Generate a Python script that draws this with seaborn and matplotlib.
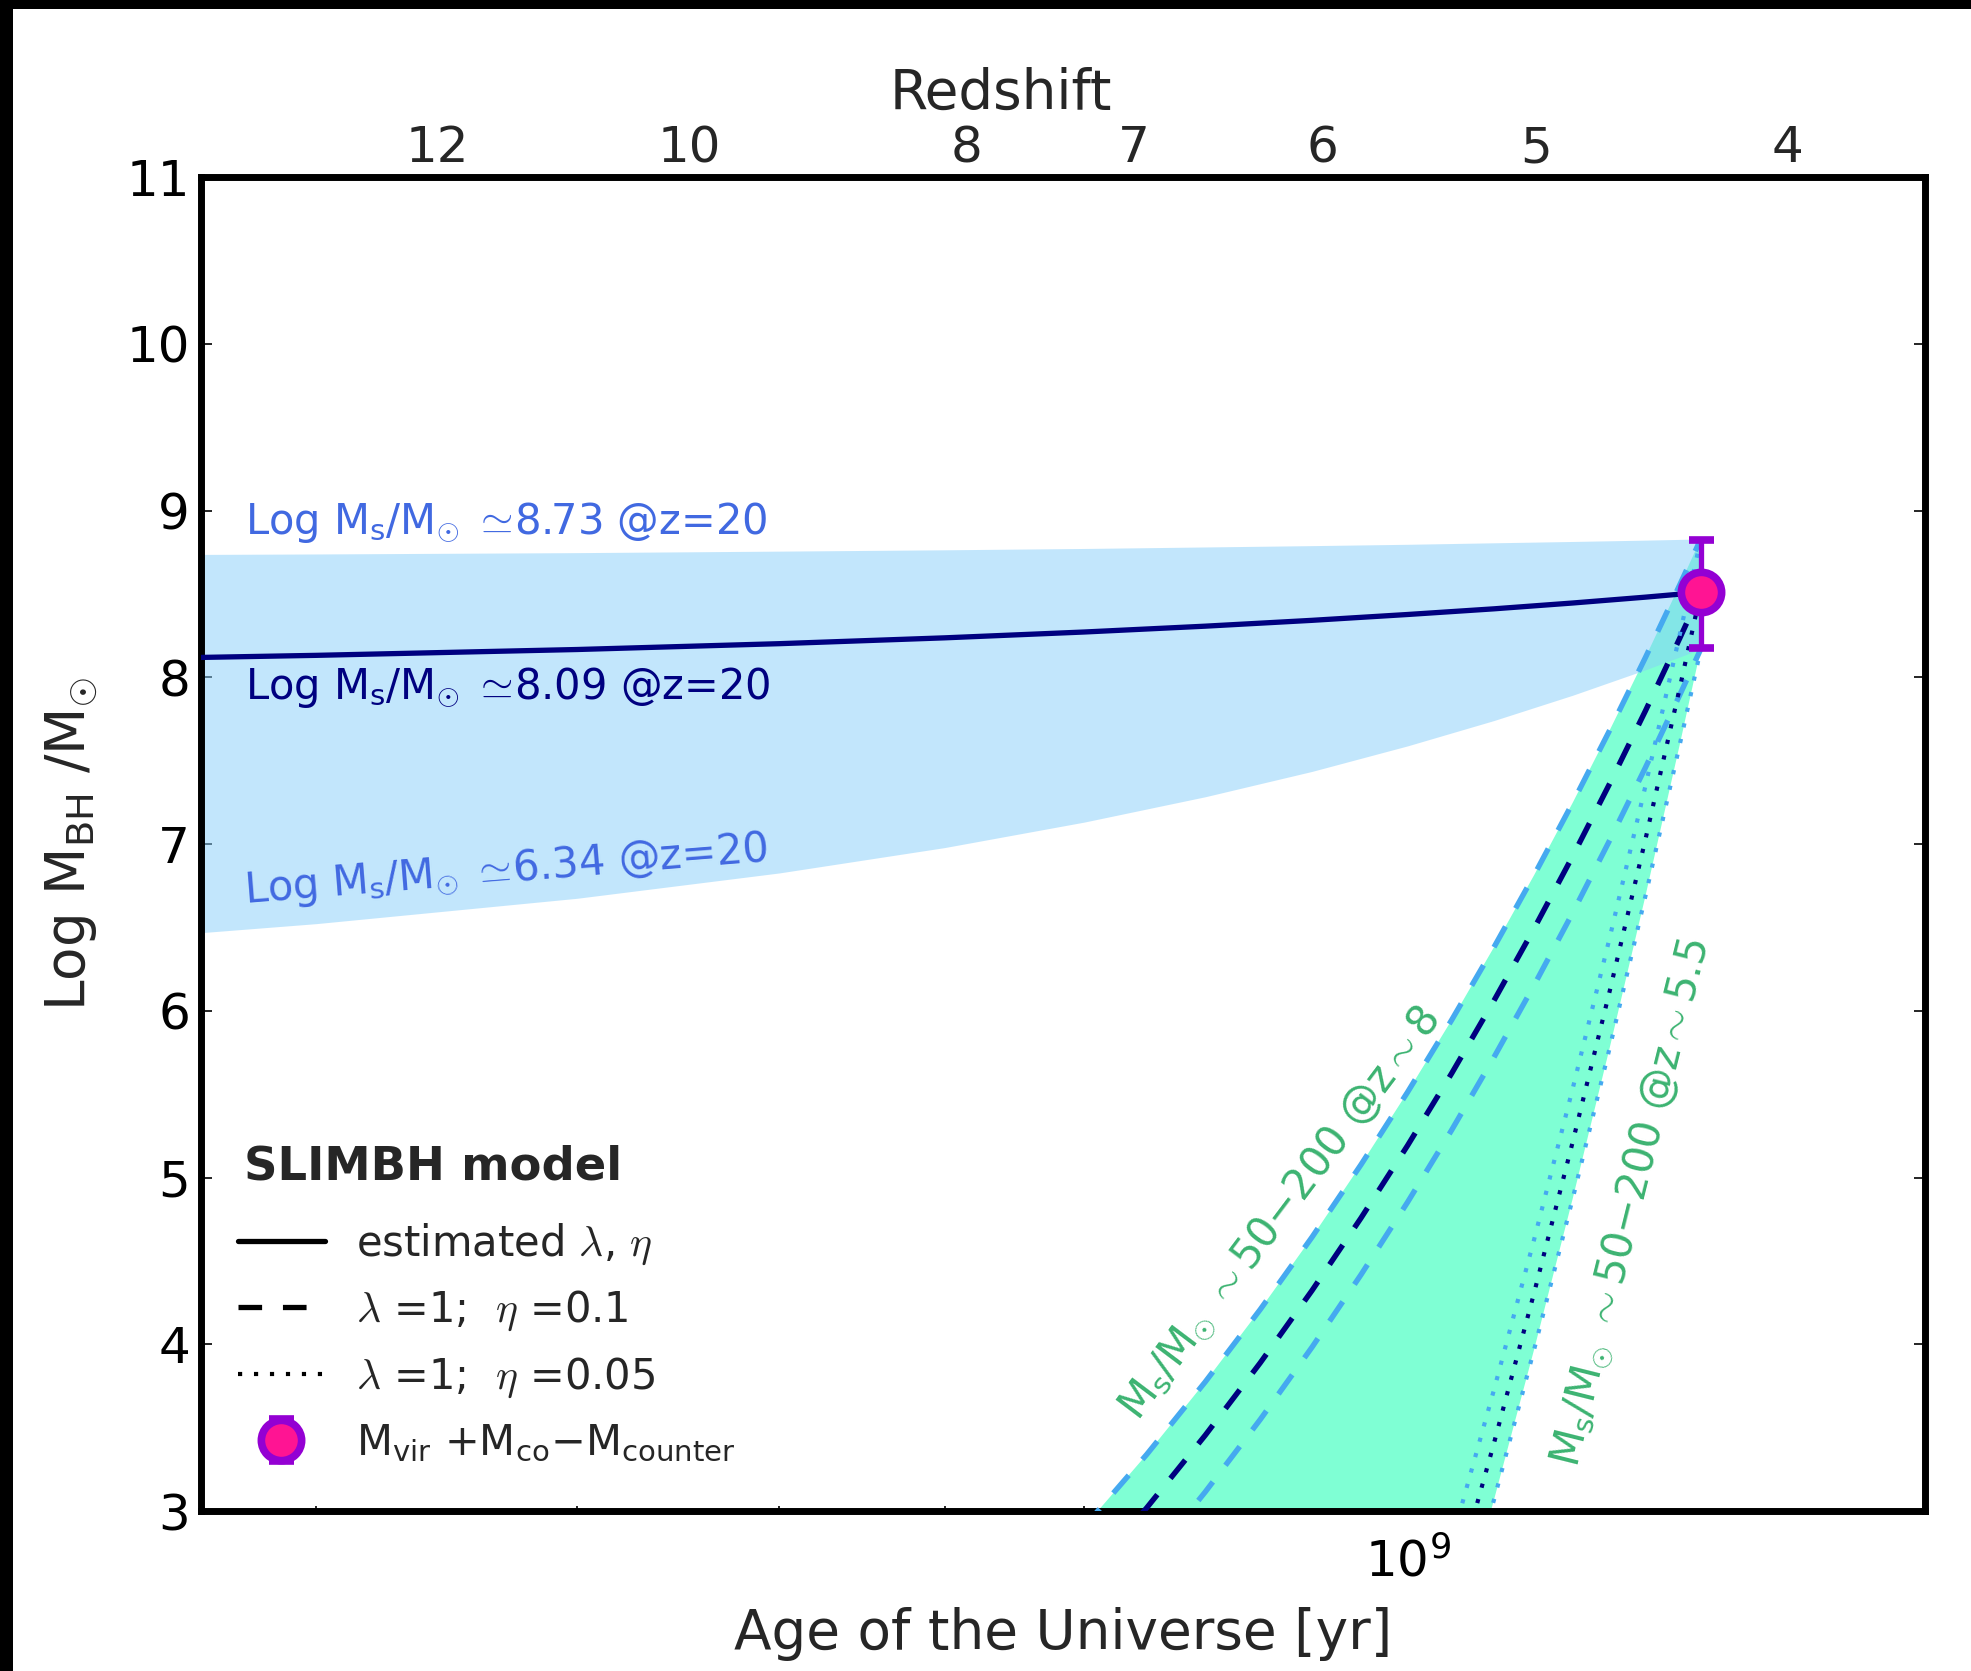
import matplotlib
matplotlib.use("Agg")
import matplotlib.pyplot as plt
from matplotlib.lines import Line2D
from matplotlib.patches import Rectangle
from matplotlib.ticker import NullFormatter, NullLocator
from matplotlib.offsetbox import HPacker, DrawingArea
import numpy as np
import seaborn as sns

# ---------------------------------------------------------------------------
# Black-hole growth histories: age of the Universe [Gyr] vs log M_BH/Msun
# ---------------------------------------------------------------------------
# SLIM-disc model: band of seeds at z=20 and the track with estimated lambda, eta
age_slim = [0.18, 0.26, 0.30, 0.40, 0.50, 0.60, 0.70, 0.80, 0.90, 1.00, 1.10, 1.20, 1.30, 1.382]
logm_slim_est = [8.09, 8.118, 8.132, 8.167, 8.202, 8.237, 8.272, 8.307, 8.342, 8.377, 8.411, 8.446, 8.481, 8.51]
logm_slim_hi = [8.73, 8.737, 8.740, 8.748, 8.757, 8.765, 8.773, 8.782, 8.790, 8.798, 8.807, 8.815, 8.823, 8.83]
logm_slim_lo = [6.34, 6.462, 6.523, 6.675, 6.827, 6.979, 7.132, 7.284, 7.436, 7.589, 7.741, 7.893, 8.045, 8.17]

# Eddington growth, lambda=1, eta=0.1
age_eta10 = [0.70, 0.75, 0.80, 0.85, 0.90, 0.95, 1.00, 1.05, 1.10, 1.15, 1.20, 1.25, 1.30, 1.35, 1.382]
logm_eta10_hi = [2.906, 3.340, 3.775, 4.209, 4.643, 5.078, 5.512, 5.946, 6.381, 6.815, 7.249, 7.684, 8.118, 8.552, 8.83]
logm_eta10_mid = [2.586, 3.020, 3.455, 3.889, 4.323, 4.758, 5.192, 5.626, 6.061, 6.495, 6.929, 7.364, 7.798, 8.232, 8.51]
logm_eta10_lo = [2.246, 2.680, 3.115, 3.549, 3.983, 4.418, 4.852, 5.286, 5.721, 6.155, 6.589, 7.024, 7.458, 7.892, 8.17]

# Eddington growth, lambda=1, eta=0.05
age_eta05 = [1.00, 1.05, 1.10, 1.15, 1.20, 1.25, 1.30, 1.35, 1.382]
logm_eta05_hi = [1.916, 2.821, 3.726, 4.631, 5.536, 6.441, 7.346, 8.251, 8.83]
logm_eta05_mid = [1.596, 2.501, 3.406, 4.311, 5.216, 6.121, 7.026, 7.931, 8.51]
logm_eta05_lo = [1.256, 2.161, 3.066, 3.971, 4.876, 5.781, 6.686, 7.591, 8.17]

# Measured black-hole mass
obs_age = 1.382          # Gyr
obs_logm = 8.51
obs_err_lo = 0.335
obs_err_hi = 0.315

# Redshift scale along the top axis
z_labels = ["12", "10", "8", "7", "6", "5", "4"]
z_age = [0.343, 0.453, 0.615, 0.739, 0.910, 1.152, 1.521]   # Gyr

age_range = [0.2642, 1.770]   # Gyr
logm_range = [3, 11]

GYR = 1e9

# ---------------------------------------------------------------------------
sns.set_style("ticks")
plt.rcParams["font.family"] = ["DejaVu Sans"]
plt.rcParams["mathtext.fontset"] = "cm"
plt.rcParams["mathtext.default"] = "regular"
plt.rcParams["lines.scale_dashes"] = False

c_band = "#87cefa"
c_green = "#7fffd4"
c_lblue = "#45a9f0"
c_navy = "#000080"
c_royal = "#4169e1"
c_text_green = "#3cb371"

fig = plt.figure(figsize=(19.71, 16.71), dpi=100)
ax = fig.add_axes([0.102, 0.0957, 0.8747, 0.7983])
ax.set_xscale("log")

def yrs(a):
    return np.asarray(a) * GYR

# seed-mass window for the Eddington tracks
poly_x = np.concatenate([yrs(age_eta10), yrs(age_eta05)[::-1]])
poly_y = np.concatenate([logm_eta10_hi, logm_eta05_lo[::-1]])
ax.fill(poly_x, poly_y, color=c_green, lw=0, zorder=1)

# SLIM-disc band
ax.fill_between(yrs(age_slim), logm_slim_lo, logm_slim_hi, color=c_band,
                alpha=0.5, lw=0, zorder=2)

dash = (0, (17, 15))
dot = (0, (3, 8.5))

sns.lineplot(x=yrs(age_slim), y=logm_slim_est, ax=ax, color=c_navy, lw=3.8,
             errorbar=None, sort=False, zorder=4)
for vals, col in [(logm_eta10_hi, c_lblue), (logm_eta10_lo, c_lblue), (logm_eta10_mid, c_navy)]:
    sns.lineplot(x=yrs(age_eta10), y=vals, ax=ax, color=col, lw=3.9, linestyle=dash,
                 errorbar=None, sort=False, zorder=4)
for vals, col in [(logm_eta05_hi, c_lblue), (logm_eta05_lo, c_lblue), (logm_eta05_mid, c_navy)]:
    sns.lineplot(x=yrs(age_eta05), y=vals, ax=ax, color=col, lw=3.0, linestyle=dot,
                 errorbar=None, sort=False, zorder=4)

eb = ax.errorbar([obs_age * GYR], [obs_logm], yerr=[[obs_err_lo], [obs_err_hi]],
                 fmt="o", ms=29, mfc="#ff1493", mec="#9400d3", mew=5.5,
                 ecolor="#9400d3", elinewidth=3.8, capsize=9, capthick=3.8,
                 zorder=6, clip_on=False)

# annotations
fs_txt = 30
sun = r"$_{\mathit{\odot}}$"
simeq = r"$\mathit{\simeq}\!$"
sim = r"$\mathit{\sim}$"
ax.text(2.773e8, 8.857, "Log M$_s$/M" + sun + " " + simeq + "8.73 @z=20", color=c_royal,
        fontsize=fs_txt, ha="left", va="baseline")
ax.text(2.773e8, 7.868, "Log M$_s$/M" + sun + " " + simeq + "8.09 @z=20", color=c_navy,
        fontsize=fs_txt, ha="left", va="baseline")
ax.text(2.773e8, 6.645, "Log M$_s$/M" + sun + " " + simeq + "6.34 @z=20", color=c_royal,
        fontsize=fs_txt, ha="left", va="baseline", rotation=4.6,
        rotation_mode="anchor")
ax.text(7.42e8, 3.54, "M$_s$/M" + sun + " " + sim + r"50$-$200 @z" + sim + "8",
        color=c_text_green, fontsize=fs_txt, ha="left", va="baseline",
        rotation=53, rotation_mode="anchor")
ax.text(1.205e9, 3.254, "M$_s$/M" + sun + " " + sim + r"50$-$200 @z" + sim + "5.5",
        color=c_text_green, fontsize=fs_txt, ha="left", va="baseline",
        rotation=76, rotation_mode="anchor")

ax.set_xlim(age_range[0] * GYR, age_range[1] * GYR)
ax.set_ylim(*logm_range)
ax.set_yticks(np.arange(3, 12, 1))
ax.xaxis.set_minor_formatter(NullFormatter())

for sp in ax.spines.values():
    sp.set_linewidth(5)
    sp.set_color("k")

ax.tick_params(axis="both", which="both", direction="in", top=True, right=True,
               colors="k")
ax.tick_params(axis="y", which="major", length=8, width=1.2, labelsize=36, pad=8)
ax.tick_params(axis="x", which="major", length=9, width=1.2, labelsize=36, pad=19)
ax.tick_params(axis="x", which="minor", length=3.5, width=1.2)

ax.set_xlabel("Age of the Universe [yr]", fontsize=39.5, labelpad=15)
ax.set_ylabel(r"Log M$_{BH}$ /M$_{\mathit{\odot}}$", fontsize=39.5, labelpad=20)

# top redshift axis
ax2 = ax.twiny()
ax2.set_xscale("log")
ax2.set_xlim(ax.get_xlim())
ax2.set_xticks(yrs(z_age))
ax2.set_xticklabels(z_labels)
ax2.xaxis.set_minor_locator(NullLocator())
ax2.tick_params(axis="x", which="major", length=0, labelsize=36, pad=3.5)
ax2.set_xlabel("Redshift", fontsize=39.5)
ax2.xaxis.set_label_coords(0.464, 1.051)
for sp in ax2.spines.values():
    sp.set_visible(False)

# legend
h_est = Line2D([], [], color="k", lw=3.8)
h_e10 = Line2D([], [], color="k", lw=3.8, linestyle=dash)
h_e05 = Line2D([], [], color="k", lw=3.0, linestyle=dot)
lam = r"$\mathit{\lambda}$"
eta = r"$\mathit{\eta}$"
leg = ax.legend([h_est, h_e10, h_e05, eb],
                ["estimated " + lam + ", " + eta,
                 lam + " =1;  " + eta + " =0.1",
                 lam + " =1;  " + eta + " =0.05",
                 r"M$_{vir}$ +M$_{co}$$-$M$_{counter}$"],
                loc="lower left", bbox_to_anchor=(0.0115, 0.0231),
                borderaxespad=0, frameon=False, fontsize=30,
                title="SLIMBH model",
                title_fontproperties={"weight": "bold", "size": 33.5},
                alignment="left", handlelength=2.1, handletextpad=0.75,
                labelspacing=0.53)
# indent the title slightly relative to the legend handles
title_box = leg._legend_box._children[0]
leg._legend_box._children[0] = HPacker(children=[DrawingArea(4.5, 0), title_box],
                                       pad=0, sep=0, align="baseline")
leg._legend_box.sep = 23
leg.set_zorder(10)

# frame edges along the top and left of the canvas
fig.add_artist(Rectangle((0, 0), 13 / 1971, 1, transform=fig.transFigure,
                         color="k", lw=0, zorder=100))
fig.add_artist(Rectangle((0, 1 - 9 / 1671), 1, 9 / 1671, transform=fig.transFigure,
                         color="k", lw=0, zorder=100))

fig.savefig("out.png", dpi=100, facecolor="white")
